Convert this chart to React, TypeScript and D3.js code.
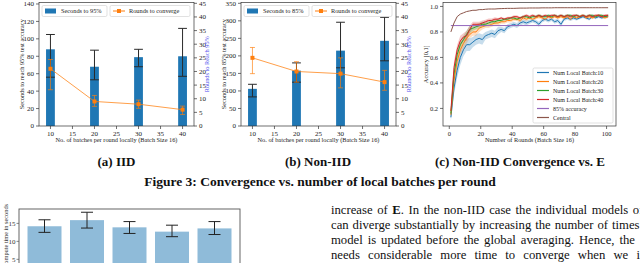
import React from "react"
import * as d3 from "d3"

const FONT = "'Liberation Serif', 'DejaVu Serif', serif"
const BLUE = "#1f77b4"
const ORANGE = "#ff7f0e"
const AXIS_BLUE = "#5050ee"

// (a) / (b): batches per round
const batches = [10, 20, 30, 40]
const batchTicks = [10, 15, 20, 25, 30, 35, 40]
const roundTicks = [0, 5, 10, 15, 20, 25, 30, 35, 40, 45]

const iidSeconds = [88, 68, 79, 80]
const iidSecondsLow = [56, 53, 68, 57]
const iidSecondsHigh = [105, 87, 88, 112]
const iidRounds = [21, 9, 8, 6]
const iidRoundsLow = [13.3, 7.2, 6.5, 4.2]
const iidRoundsHigh = [24.4, 11.2, 9.5, 7.3]
const iidSecTicks = [0, 20, 40, 60, 80, 100, 120, 140]

const nonIidSeconds = [106, 158, 215, 243]
const nonIidSecondsLow = [83, 125, 166, 186]
const nonIidSecondsHigh = [119, 180, 296, 310]
const nonIidRounds = [25, 20, 19.2, 16.1]
const nonIidRoundsLow = [19.2, 16.1, 14, 13.1]
const nonIidRoundsHigh = [28.8, 23.6, 25, 20.4]
const nonIidSecTicks = [0, 50, 100, 150, 200, 250, 300, 350]

// (c): accuracy per round (every second round)
const rounds = d3.range(1, 102, 2)
const acc10 = [0.13, 0.36, 0.50, 0.60, 0.66, 0.70, 0.70, 0.72, 0.74, 0.75, 0.74, 0.77, 0.78, 0.79, 0.78, 0.81, 0.82, 0.81, 0.84, 0.85, 0.86, 0.85, 0.87, 0.88, 0.87, 0.88, 0.89, 0.88, 0.86, 0.89, 0.90, 0.89, 0.90, 0.88, 0.89, 0.86, 0.90, 0.91, 0.90, 0.91, 0.90, 0.91, 0.92, 0.91, 0.90, 0.92, 0.91, 0.92, 0.91, 0.92, 0.92]
const acc20 = [0.15, 0.42, 0.57, 0.66, 0.71, 0.75, 0.78, 0.80, 0.80, 0.83, 0.84, 0.85, 0.85, 0.86, 0.87, 0.87, 0.88, 0.88, 0.89, 0.89, 0.90, 0.90, 0.89, 0.91, 0.90, 0.91, 0.90, 0.91, 0.92, 0.91, 0.90, 0.92, 0.91, 0.92, 0.91, 0.92, 0.91, 0.92, 0.90, 0.92, 0.91, 0.92, 0.93, 0.91, 0.92, 0.91, 0.92, 0.93, 0.92, 0.91, 0.92]
const acc30 = [0.16, 0.47, 0.62, 0.70, 0.74, 0.78, 0.82, 0.83, 0.84, 0.85, 0.86, 0.86, 0.87, 0.88, 0.88, 0.89, 0.89, 0.90, 0.90, 0.91, 0.91, 0.90, 0.91, 0.92, 0.92, 0.91, 0.92, 0.92, 0.93, 0.92, 0.92, 0.93, 0.92, 0.93, 0.92, 0.93, 0.92, 0.93, 0.93, 0.92, 0.93, 0.92, 0.93, 0.92, 0.93, 0.93, 0.92, 0.93, 0.93, 0.92, 0.93]
const acc40 = [0.18, 0.52, 0.66, 0.73, 0.76, 0.77, 0.82, 0.86, 0.86, 0.86, 0.87, 0.88, 0.89, 0.89, 0.90, 0.90, 0.91, 0.90, 0.91, 0.91, 0.92, 0.92, 0.91, 0.92, 0.93, 0.92, 0.93, 0.92, 0.93, 0.92, 0.93, 0.92, 0.93, 0.93, 0.92, 0.93, 0.92, 0.93, 0.92, 0.93, 0.93, 0.92, 0.93, 0.92, 0.93, 0.92, 0.93, 0.93, 0.92, 0.93, 0.93]
const accCentral = [0.80, 0.87, 0.92, 0.94, 0.95, 0.96, 0.965, 0.97, 0.97, 0.975, 0.975, 0.978, 0.98, 0.98, 0.98, 0.982, 0.983, 0.984, 0.985, 0.985, 0.985, 0.986, 0.987, 0.987, 0.987, 0.988, 0.988, 0.988, 0.988, 0.989, 0.989, 0.989, 0.989, 0.99, 0.99, 0.99, 0.99, 0.99, 0.99, 0.99, 0.99, 0.99, 0.99, 0.99, 0.99, 0.99, 0.99, 0.99, 0.99, 0.99, 0.99]
const spread10 = [0.03, 0.05, 0.06, 0.06, 0.05, 0.05, 0.05, 0.04, 0.04, 0.04, 0.04, 0.03, 0.03, 0.03, 0.03, 0.03, 0.02, 0.02, 0.02, 0.02, 0.02, 0.02, 0.02, 0.02, 0.02, 0.015, 0.015, 0.015, 0.02, 0.015, 0.015, 0.015, 0.015, 0.015, 0.015, 0.02, 0.015, 0.015, 0.015, 0.015, 0.01, 0.01, 0.01, 0.01, 0.01, 0.01, 0.01, 0.01, 0.01, 0.01, 0.01]
const spread20 = [0.03, 0.05, 0.05, 0.04, 0.04, 0.04, 0.03, 0.03, 0.03, 0.03, 0.02, 0.02, 0.02, 0.02, 0.02, 0.02, 0.015, 0.015, 0.015, 0.015, 0.015, 0.015, 0.015, 0.015, 0.015, 0.01, 0.01, 0.01, 0.015, 0.01, 0.01, 0.01, 0.01, 0.01, 0.01, 0.01, 0.01, 0.01, 0.01, 0.01, 0.01, 0.01, 0.01, 0.01, 0.01, 0.01, 0.01, 0.01, 0.01, 0.01, 0.01]
const spread30 = [0.03, 0.04, 0.04, 0.03, 0.03, 0.03, 0.03, 0.02, 0.02, 0.02, 0.02, 0.02, 0.015, 0.015, 0.015, 0.015, 0.015, 0.01, 0.01, 0.01, 0.01, 0.01, 0.01, 0.01, 0.01, 0.01, 0.01, 0.01, 0.01, 0.01, 0.01, 0.01, 0.01, 0.01, 0.01, 0.01, 0.01, 0.01, 0.01, 0.01, 0.01, 0.01, 0.01, 0.01, 0.01, 0.01, 0.01, 0.01, 0.01, 0.01, 0.01]
const spread40 = [0.03, 0.05, 0.04, 0.04, 0.03, 0.04, 0.03, 0.02, 0.02, 0.02, 0.02, 0.015, 0.015, 0.015, 0.015, 0.01, 0.01, 0.01, 0.01, 0.01, 0.01, 0.01, 0.01, 0.01, 0.01, 0.01, 0.01, 0.01, 0.01, 0.01, 0.01, 0.01, 0.01, 0.01, 0.01, 0.01, 0.01, 0.01, 0.01, 0.01, 0.01, 0.01, 0.01, 0.01, 0.01, 0.01, 0.01, 0.01, 0.01, 0.01, 0.01]
const targetAccuracy = 0.85
const accTicks = [0.2, 0.4, 0.6, 0.8, 1.0]
const roundAxisTicks = [0, 20, 40, 60, 80, 100]

// bottom chart: compute time
const timeValues = [14.2, 15.9, 13.9, 12.7, 13.6]
const timeLow = [12.5, 13.7, 12.2, 11.3, 11.9]
const timeHigh = [16.0, 18.1, 15.5, 14.5, 15.5]
const timeTicks = [5, 10, 15]

const bodyLines = [
  "can diverge substantially by increasing the number of times the",
  "model is updated before the global averaging. Hence, the",
  "needs considerable more time to converge when we increase",
]
// justified paragraph: extra space between words per line
const bodySpacing = [1.4, 0.8, 1.8, 5]

const TOP = 2.5
const BOTTOM = 126

function BarPanel(props: any) {
  const { left, right, secs, secsLow, secsHigh, rds, rdsLow, rdsHigh, secTicks, secMax, pct } = props
  const x = d3.scaleLinear().domain([7.4, 42.6]).range([left, right])
  const y = d3.scaleLinear().domain([0, secMax]).range([BOTTOM, TOP])
  const yr = d3.scaleLinear().domain([0, 45.3]).range([BOTTOM, TOP])
  const bw = x(2) - x(0)
  const line = d3.line<number>().x((_, i) => x(batches[i])).y((d) => yr(d))
  const midY = (TOP + BOTTOM) / 2
  const lgA = left + 3
  const lgB = left + 71
  return (
    <g>
      {secs.map((d: number, i: number) => (
        <rect key={`bar-${i}`} x={x(batches[i]) - bw / 2} y={y(d)} width={bw} height={BOTTOM - y(d)} fill={BLUE} />
      ))}
      {secs.map((d: number, i: number) => {
        const cx = x(batches[i])
        return (
          <g key={`err-${i}`} stroke="#2a2a2a" strokeWidth={1}>
            <line x1={cx} x2={cx} y1={y(secsLow[i])} y2={y(secsHigh[i])} />
            <line x1={cx - bw / 2} x2={cx + bw / 2} y1={y(secsLow[i])} y2={y(secsLow[i])} />
            <line x1={cx - bw / 2} x2={cx + bw / 2} y1={y(secsHigh[i])} y2={y(secsHigh[i])} />
          </g>
        )
      })}
      <path d={line(rds) || ""} fill="none" stroke={ORANGE} strokeOpacity={0.75} strokeWidth={1} />
      {rds.map((d: number, i: number) => {
        const cx = x(batches[i])
        return (
          <g key={`rerr-${i}`} stroke={ORANGE} strokeOpacity={0.75} strokeWidth={0.9}>
            <line x1={cx} x2={cx} y1={yr(rdsLow[i])} y2={yr(rdsHigh[i])} />
            <line x1={cx - 2.5} x2={cx + 2.5} y1={yr(rdsLow[i])} y2={yr(rdsLow[i])} />
            <line x1={cx - 2.5} x2={cx + 2.5} y1={yr(rdsHigh[i])} y2={yr(rdsHigh[i])} />
          </g>
        )
      })}
      {rds.map((d: number, i: number) => (
        <rect key={`mk-${i}`} x={x(batches[i]) - 2} y={yr(d) - 2} width={4} height={4} fill={ORANGE} />
      ))}
      <rect x={left} y={TOP} width={right - left} height={BOTTOM - TOP} fill="none" stroke="#333" strokeWidth={0.7} />
      <g fontSize={7} fill="#222">
        {secTicks.map((t: number) => (
          <g key={`yl-${t}`}>
            <line x1={left - 3} x2={left} y1={y(t)} y2={y(t)} stroke="#333" strokeWidth={0.7} />
            <text x={left - 5} y={y(t)} dy="0.35em" textAnchor="end">{t}</text>
          </g>
        ))}
        {roundTicks.map((t) => (
          <g key={`yr-${t}`}>
            <line x1={right} x2={right + 3} y1={yr(t)} y2={yr(t)} stroke="#333" strokeWidth={0.7} />
            <text x={right + 5} y={yr(t)} dy="0.35em">{t}</text>
          </g>
        ))}
        {batchTicks.map((t) => (
          <g key={`xt-${t}`}>
            <line x1={x(t)} x2={x(t)} y1={BOTTOM} y2={BOTTOM + 3} stroke="#333" strokeWidth={0.7} />
            <text x={x(t)} y={BOTTOM + 9.5} textAnchor="middle">{t}</text>
          </g>
        ))}
      </g>
      <g fontSize={6.3} fill="#222">
        <text transform={`translate(${left - 15},${midY}) rotate(-90)`} textAnchor="middle">
          {`Seconds to reach ${pct}% test accuracy`}
        </text>
        <text transform={`translate(${right + 15},${midY}) rotate(-90)`} textAnchor="middle" fill={AXIS_BLUE}>
          {`Rounds to Reach ${pct}%`}
        </text>
        <text x={(left + right) / 2} y={BOTTOM + 16} textAnchor="middle">
          No. of batches per round locally (Batch Size 16)
        </text>
      </g>
      <g fontSize={6.3} fill="#222">
        <rect x={lgA} y={5.5} width={65} height={11} rx={1.5} fill="white" fillOpacity={0.85} stroke="#ccc" strokeWidth={0.6} />
        <rect x={lgA + 3} y={8.5} width={11} height={5} fill={BLUE} />
        <text x={lgA + 19} y={11} dy="0.35em">{`Seconds to ${pct}%`}</text>
        <rect x={lgB} y={5.5} width={right - 4 - lgB} height={11} rx={1.5} fill="white" fillOpacity={0.85} stroke="#ccc" strokeWidth={0.6} />
        <line x1={lgB + 3} x2={lgB + 15} y1={11} y2={11} stroke={ORANGE} strokeWidth={1} />
        <rect x={lgB + 7} y={9} width={4} height={4} fill={ORANGE} />
        <text x={lgB + 19} y={11} dy="0.35em">Rounds to converge</text>
      </g>
    </g>
  )
}

function ConvergencePanel() {
  const left = 443
  const right = 616
  const x = d3.scaleLinear().domain([-4, 106]).range([left, right])
  const y = d3.scaleLinear().domain([0.062, 1.031]).range([BOTTOM, TOP])
  const line = d3.line<number>().x((_, i) => x(rounds[i])).y((d) => y(d))
  const series = [
    { name: "Num Local Batch:10", values: acc10, spread: spread10, color: "#1f77b4" },
    { name: "Num Local Batch:20", values: acc20, spread: spread20, color: "#ff7f0e" },
    { name: "Num Local Batch:30", values: acc30, spread: spread30, color: "#2ca02c" },
    { name: "Num Local Batch:40", values: acc40, spread: spread40, color: "#d62728" },
  ]
  const legendItems = [
    ...series.map((s) => ({ name: s.name, color: s.color })),
    { name: "85% accuracy", color: "#9467bd" },
    { name: "Central", color: "#8c564b" },
  ]
  const midY = (TOP + BOTTOM) / 2
  const roundExtent = d3.extent(rounds) as [number, number]
  return (
    <g>
      {series.map((s) => {
        const area = d3
          .area<number>()
          .x((_, i) => x(rounds[i]))
          .y0((d, i) => y(d - s.spread[i]))
          .y1((d, i) => y(d + s.spread[i]))
        return <path key={`band-${s.name}`} d={area(s.values) || ""} fill={s.color} fillOpacity={0.25} />
      })}
      {series.map((s) => (
        <path key={`line-${s.name}`} d={line(s.values) || ""} fill="none" stroke={s.color} strokeWidth={1} />
      ))}
      <line x1={x(roundExtent[0])} x2={x(roundExtent[1])} y1={y(targetAccuracy)} y2={y(targetAccuracy)} stroke="#9467bd" strokeWidth={1} />
      <path d={line(accCentral) || ""} fill="none" stroke="#8c564b" strokeWidth={1} />
      <rect x={left} y={TOP} width={right - left} height={BOTTOM - TOP} fill="none" stroke="#333" strokeWidth={0.7} />
      <g fontSize={6.5} fill="#222">
        {accTicks.map((t) => (
          <g key={`ay-${t}`}>
            <line x1={left - 3} x2={left} y1={y(t)} y2={y(t)} stroke="#333" strokeWidth={0.7} />
            <text x={left - 5} y={y(t)} dy="0.35em" textAnchor="end">{d3.format(".1f")(t)}</text>
          </g>
        ))}
        {roundAxisTicks.map((t) => (
          <g key={`ax-${t}`}>
            <line x1={x(t)} x2={x(t)} y1={BOTTOM} y2={BOTTOM + 3} stroke="#333" strokeWidth={0.7} />
            <text x={x(t)} y={BOTTOM + 9.5} textAnchor="middle">{t}</text>
          </g>
        ))}
      </g>
      <g fontSize={6.3} fill="#222">
        <text transform={`translate(${left - 15},${midY}) rotate(-90)`} textAnchor="middle">Accuracy [0,1]</text>
        <text x={(left + right) / 2} y={BOTTOM + 16} textAnchor="middle">Number of Rounds (Batch Size 16)</text>
      </g>
      <g fontSize={6} fill="#222">
        <rect x={533} y={68} width={80} height={55} rx={1.5} fill="white" fillOpacity={0.85} stroke="#ccc" strokeWidth={0.6} />
        {legendItems.map((it, i) => (
          <g key={`lg-${it.name}`}>
            <line x1={537} x2={549} y1={72.5 + i * 9} y2={72.5 + i * 9} stroke={it.color} strokeWidth={1.2} />
            <text x={553} y={72.5 + i * 9} dy="0.35em">{it.name}</text>
          </g>
        ))}
      </g>
    </g>
  )
}

function TimeBars() {
  const left = 19
  const right = 240
  const top = 209
  const x = d3.scaleLinear().domain([-0.6, 4.6]).range([left, right])
  const y = d3.scaleLinear().domain([0, 19]).range([277.3, top])
  const bw = x(0.8) - x(0)
  return (
    <g>
      {timeValues.map((d, i) => (
        <rect key={`tb-${i}`} x={x(i) - bw / 2} y={y(d)} width={bw} height={300 - y(d)} fill="#8fbbd9" />
      ))}
      {timeValues.map((d, i) => (
        <g key={`te-${i}`} stroke="#222" strokeWidth={1}>
          <line x1={x(i)} x2={x(i)} y1={y(timeLow[i])} y2={y(timeHigh[i])} />
          <line x1={x(i) - 6} x2={x(i) + 6} y1={y(timeLow[i])} y2={y(timeLow[i])} />
          <line x1={x(i) - 6} x2={x(i) + 6} y1={y(timeHigh[i])} y2={y(timeHigh[i])} />
        </g>
      ))}
      <rect x={left} y={top} width={right - left} height={120} fill="none" stroke="#555" strokeWidth={0.9} />
      <g fontSize={7} fill="#333">
        {timeTicks.map((t) => (
          <g key={`tt-${t}`}>
            <line x1={left - 2.5} x2={left} y1={y(t)} y2={y(t)} stroke="#555" strokeWidth={0.7} />
            <text x={left - 3.5} y={y(t)} dy="0.35em" textAnchor="end">{t}</text>
          </g>
        ))}
      </g>
      <text transform="translate(7.5,204) rotate(-90)" textAnchor="end" fontSize={6.3} fill="#333">
        Compute time in seconds
      </text>
    </g>
  )
}

export default function App() {
  return (
    <>
      <style>{"body{margin:0}"}</style>
      <svg width={640} height={263} style={{ display: "block", fontFamily: FONT }}>
        <rect width={640} height={263} fill="white" />
        <BarPanel
          left={39} right={194} secs={iidSeconds} secsLow={iidSecondsLow} secsHigh={iidSecondsHigh}
          rds={iidRounds} rdsLow={iidRoundsLow} rdsHigh={iidRoundsHigh} secTicks={iidSecTicks} secMax={141.7} pct={95}
        />
        <BarPanel
          left={241} right={396} secs={nonIidSeconds} secsLow={nonIidSecondsLow} secsHigh={nonIidSecondsHigh}
          rds={nonIidRounds} rdsLow={nonIidRoundsLow} rdsHigh={nonIidRoundsHigh} secTicks={nonIidSecTicks} secMax={352.3} pct={85}
        />
        <ConvergencePanel />
        <g fontSize={13} fontWeight="bold" textAnchor="middle" fill="#111">
          <text x={116.5} y={166}>(a) IID</text>
          <text x={318} y={166}>(b) Non-IID</text>
          <text x={520} y={166}>(c) Non-IID Convergence vs. E</text>
          <text x={320} y={186} fontSize={13.5}>Figure 3: Convergence vs. number of local batches per round</text>
        </g>
        <TimeBars />
        <g fontSize={12.7} fill="#111">
          <text x={331} y={214} wordSpacing={bodySpacing[0]}>
            increase of <tspan fontWeight="bold">E</tspan>. In the non-IID case the individual models of
          </text>
          {bodyLines.map((l, i) => (
            <text key={`bl-${i}`} x={331} y={229 + i * 15} wordSpacing={bodySpacing[i + 1]}>{l}</text>
          ))}
        </g>
      </svg>
    </>
  )
}
